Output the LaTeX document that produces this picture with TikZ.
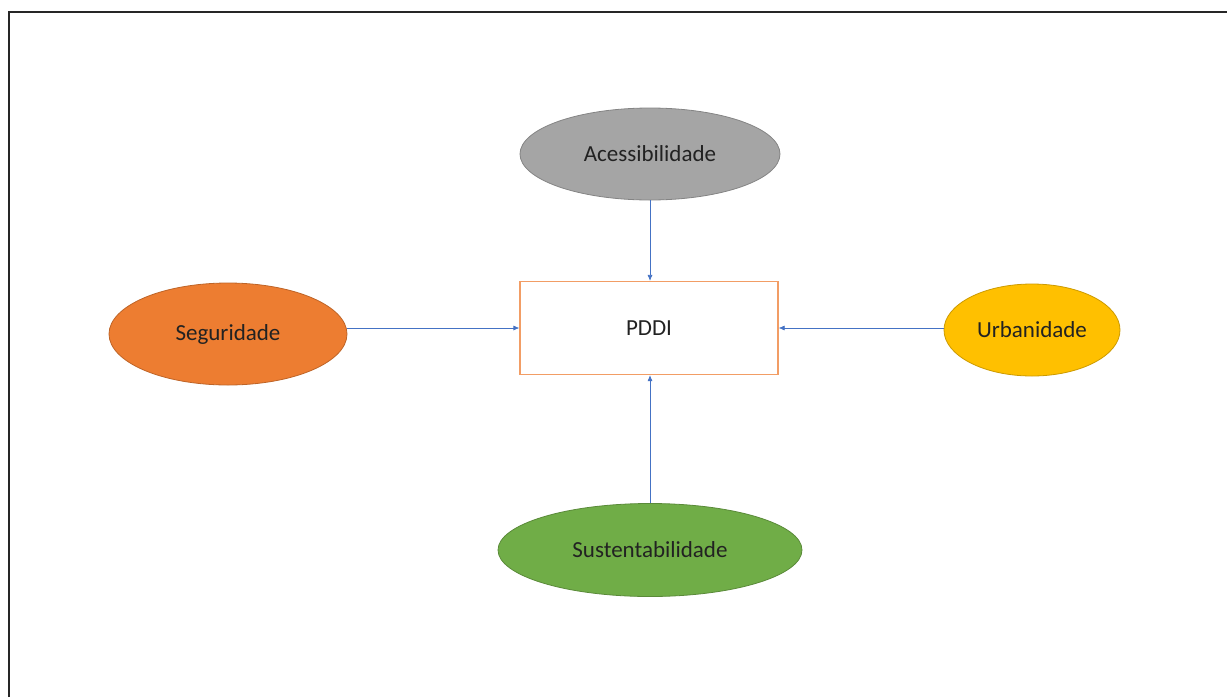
\documentclass[tikz,border=0pt]{standalone}
\usepackage{fontspec}
\setmainfont{Carlito}
\usetikzlibrary{shapes.geometric,arrows.meta}
\definecolor{linkblue}{HTML}{4472C4}
\definecolor{accgray}{HTML}{A5A5A5}
\definecolor{segorange}{HTML}{ED7D31}
\definecolor{urbgold}{HTML}{FFC000}
\definecolor{susgreen}{HTML}{70AD47}
\definecolor{inktext}{HTML}{222222}
\tikzset{
  x=1pt, y=-1pt,
  topic/.style={ellipse, inner sep=0pt, line width=0.8pt, text=inktext,
    font=\fontsize{23}{27}\selectfont},
  hub/.style={rectangle, draw=segorange!75, fill=white, line width=1.2pt, inner sep=0pt,
    text=inktext, font=\fontsize{23}{27}\selectfont},
  link/.style={draw=linkblue, line width=0.7pt, -{Latex[length=6pt,width=5pt]}}
}
\begin{document}
\begin{tikzpicture}
\useasboundingbox (0,0) rectangle (1227,697);
% page frame (top and left edges only)
\draw[line width=2pt, black!85] (9,697) -- (9,12) -- (1227,12);

\node[hub, minimum width=258pt, minimum height=93pt] (pddi) at (649,328) {PDDI};

\node[topic, fill=accgray, draw=accgray!80!black, minimum width=260pt, minimum height=92pt]
  (acc) at (650,154) {Acessibilidade};
\node[topic, fill=segorange, draw=segorange!80!black, minimum width=238pt, minimum height=102pt]
  (seg) at (228,334) {Seguridade};
\node[topic, fill=urbgold, draw=urbgold!80!black, minimum width=176pt, minimum height=92pt]
  (urb) at (1032,330) {Urbanidade};
\node[topic, fill=susgreen, draw=susgreen!80!black, minimum width=304pt, minimum height=93pt]
  (sus) at (650,550) {Sustentabilidade};

\draw[link] (acc.south) -- (acc.south |- pddi.north);
\draw[link] (seg.east |- pddi.west) -- (pddi.west);
\draw[link] (urb.west |- pddi.east) -- (pddi.east);
\draw[link] (sus.north) -- (sus.north |- pddi.south);
\end{tikzpicture}
\end{document}
